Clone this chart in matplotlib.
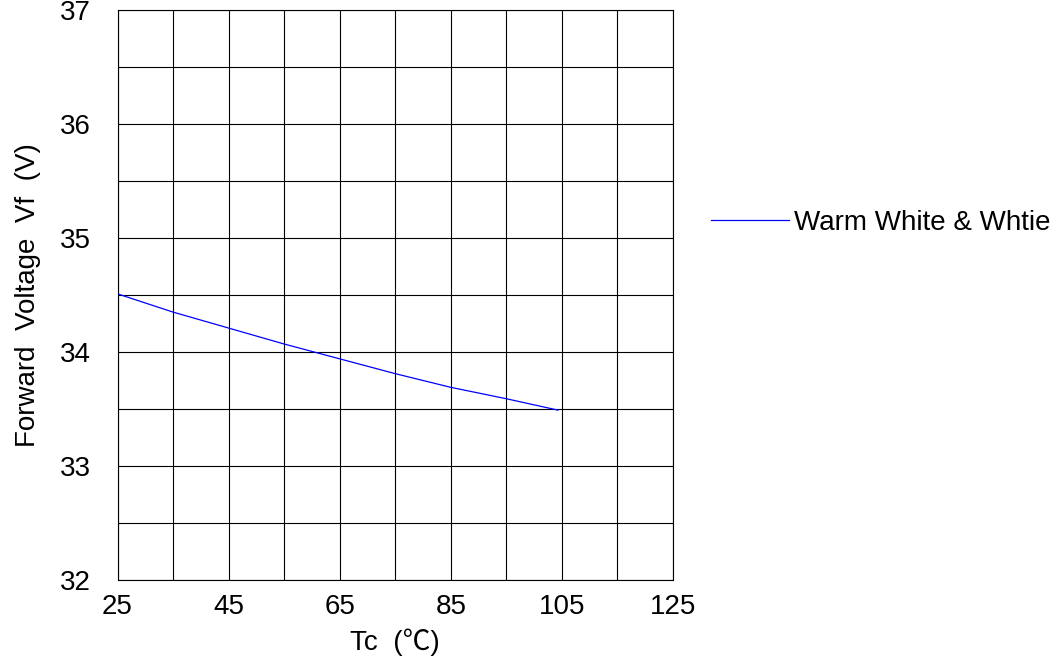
import matplotlib
matplotlib.use("Agg")
import matplotlib.pyplot as plt
import numpy as np

plt.rcParams['font.family'] = ['Liberation Sans', 'Noto Sans CJK SC', 'DejaVu Sans']

# data
tc = [25, 35, 45, 55, 65, 75, 85, 95, 104.3]
vf = [34.51, 34.35, 34.21, 34.07, 33.94, 33.81, 33.69, 33.59, 33.49]
series_name = "Warm White & Whtie"
xticks = [25, 45, 65, 85, 105, 125]
yticks = [32, 33, 34, 35, 36, 37]

fig = plt.figure(figsize=(10.61, 6.56), dpi=100)
ax = fig.add_axes([117.5 / 1061, 1 - 580 / 656, (673 - 117.5) / 1061, 570 / 656])

ax.plot(tc, vf, color="#0000ff", linewidth=0.9, label=series_name, zorder=3)

ax.set_xlim(25, 125)
ax.set_ylim(32, 37)
ax.set_xticks(xticks)
ax.set_yticks(yticks)
ax.set_xticks(np.arange(25, 126, 10), minor=True)
ax.set_yticks(np.arange(32, 37.01, 0.5), minor=True)
ax.grid(True, which="both", color="black", linewidth=0.8)
ax.tick_params(which="both", length=0, labelsize=20)
ax.tick_params(axis="x", pad=10)
ax.tick_params(axis="y", pad=19)
for s in ax.spines.values():
    s.set_linewidth(0.8)
    s.set_color("black")

ax.set_xlabel("Tc  (℃)", fontsize=20, labelpad=6)
ax.set_ylabel("Forward  Voltage  Vf  (V)", fontsize=20, labelpad=14)

fig.legend(loc="center left", bbox_to_anchor=(711 / 1061, 1 - 223 / 656),
           frameon=False, fontsize=20, handlelength=2.8, handletextpad=0.2,
           borderpad=0, borderaxespad=0)

fig.savefig("out.png", dpi=100)
